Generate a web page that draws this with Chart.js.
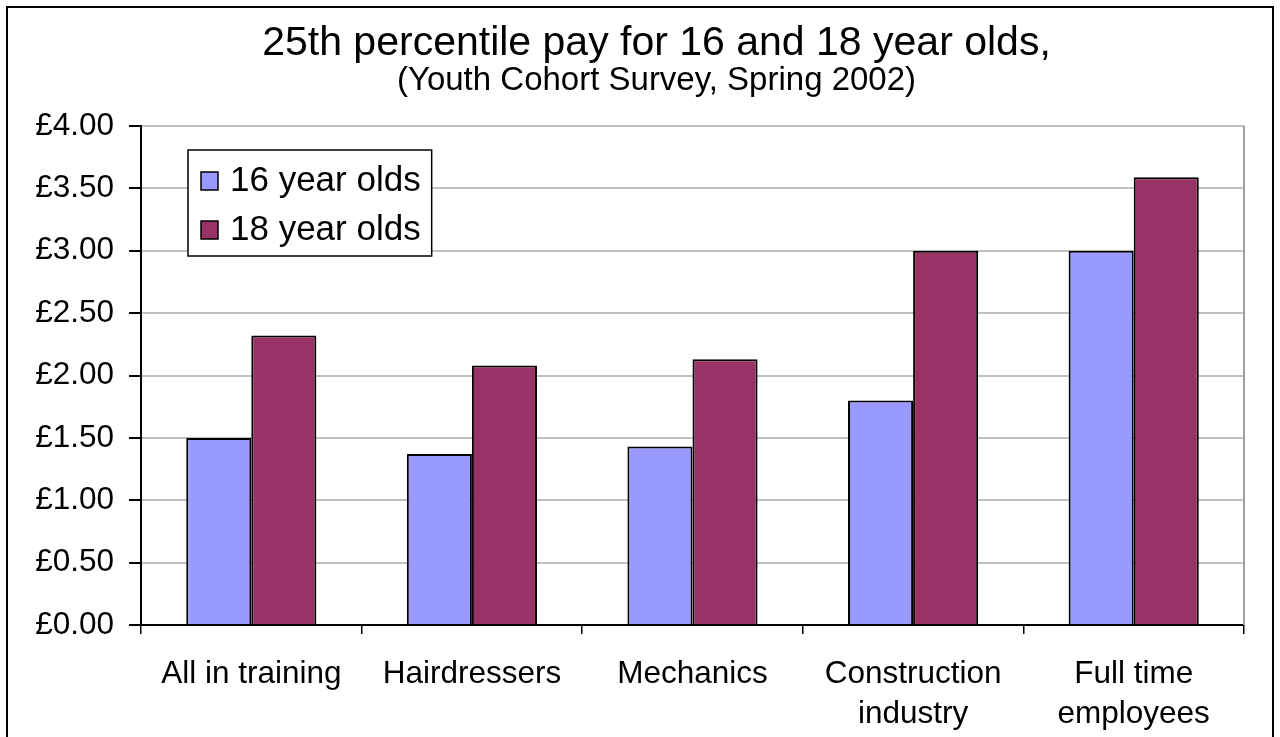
<!DOCTYPE html>
<html>
<head>
<meta charset="utf-8">
<script src="https://cdn.jsdelivr.net/npm/chart.js@4.4.1/dist/chart.umd.min.js"></script>
<style>
  html, body { margin: 0; padding: 0; background: #fff; }
  #wrap { position: absolute; left: 0; top: 0; width: 1280px; height: 737px; }
</style>
</head>
<body>
<div id="wrap"><canvas id="myChart" width="1280" height="737"></canvas></div>
<script>
var categories = ['All in training', 'Hairdressers', 'Mechanics', ['Construction', 'industry'], ['Full time', 'employees']];
var seriesNames = ['16 year olds', '18 year olds'];
var pay16 = [1.50, 1.37, 1.43, 1.80, 3.00];
var pay18 = [2.32, 2.08, 2.13, 3.00, 3.59];
var yTicks = [0, 0.5, 1, 1.5, 2, 2.5, 3, 3.5, 4];

var fontFamily = '"Liberation Sans", Arial, sans-serif';

// outer frame + grey right edge of plot area + boxed legend
var chartDecor = {
  id: 'chartDecor',
  beforeDraw: function(chart) {
    var ctx = chart.ctx;
    ctx.save();
    ctx.fillStyle = '#fff';
    ctx.fillRect(0, 0, chart.width, chart.height);
    ctx.restore();
  },
  afterDatasetsDraw: function(chart) {
    var ctx = chart.ctx;
    var area = chart.chartArea;
    ctx.save();
    ctx.strokeStyle = '#a0a0a0';
    ctx.lineWidth = 2;
    ctx.beginPath();
    ctx.moveTo(area.right, area.top);
    ctx.lineTo(area.right, area.bottom);
    ctx.stroke();
    ctx.restore();
  },
  afterDraw: function(chart) {
    var ctx = chart.ctx;
    var area = chart.chartArea;
    ctx.save();
    ctx.strokeStyle = '#000';
    ctx.lineWidth = 2;
    ctx.strokeRect(7, 7, 1266, 800);

    // legend box
    ctx.font = '35px ' + fontFamily;
    var maxW = 0;
    chart.data.datasets.forEach(function(ds) {
      maxW = Math.max(maxW, ctx.measureText(ds.label).width);
    });
    var bx = area.left + 47, by = area.top + 24;
    var bw = 12 + 18 + 11 + maxW + 12, bh = 106;
    ctx.fillStyle = '#fff';
    ctx.fillRect(bx, by, bw, bh);
    ctx.lineWidth = 1.5;
    ctx.strokeStyle = '#000';
    ctx.strokeRect(bx, by, bw, bh);
    chart.data.datasets.forEach(function(ds, i) {
      var cy = by + 31 + i * 49;
      ctx.fillStyle = ds.backgroundColor;
      ctx.fillRect(bx + 13, cy - 9, 17, 18);
      ctx.strokeStyle = '#000';
      ctx.lineWidth = 1.5;
      ctx.strokeRect(bx + 13, cy - 9, 17, 18);
      ctx.fillStyle = '#000';
      ctx.textBaseline = 'middle';
      ctx.textAlign = 'left';
      ctx.fillText(ds.label, bx + 42, cy);
    });
    ctx.restore();
  }
};

var ctx = document.getElementById('myChart').getContext('2d');
var myChart = new Chart(ctx, {
  type: 'bar',
  data: {
    labels: categories,
    datasets: [
      { label: seriesNames[0], data: pay16, backgroundColor: '#9999FF', borderColor: '#000', borderWidth: 2, borderSkipped: 'bottom' },
      { label: seriesNames[1], data: pay18, backgroundColor: '#993366', borderColor: '#000', borderWidth: 2, borderSkipped: 'bottom' }
    ]
  },
  options: {
    responsive: false,
    animation: false,
    layout: { padding: { left: 33, right: 0, top: 0, bottom: 0 } },
    datasets: {
      bar: { categoryPercentage: 0.59, barPercentage: 1.0 }
    },
    plugins: {
      legend: { display: false },
      tooltip: { enabled: false },
      title: {
        display: true,
        text: '25th percentile pay for 16 and 18 year olds,',
        color: '#000',
        font: { family: fontFamily, size: 41, weight: 'normal', lineHeight: 1.0 },
        padding: { top: 23, bottom: 0 }
      },
      subtitle: {
        display: true,
        text: '(Youth Cohort Survey, Spring 2002)',
        color: '#000',
        font: { family: fontFamily, size: 33, weight: 'normal', lineHeight: 1.0 },
        padding: { top: 0, bottom: 29 }
      }
    },
    scales: {
      x: {
        grid: { display: true, offset: true, drawOnChartArea: false, color: '#000', tickColor: '#000', tickLength: 9, lineWidth: 1.5 },
        border: { display: true, color: '#000', width: 2 },
        ticks: {
          color: '#000',
          font: { family: fontFamily, size: 31.5, lineHeight: 1.27 },
          padding: 20,
          maxRotation: 0,
          autoSkip: false
        },
        afterFit: function(scale) { scale.height = 112; }
      },
      y: {
        min: 0,
        max: 4,
        afterBuildTicks: function(scale) {
          scale.ticks = yTicks.map(function(v) { return { value: v }; });
        },
        grid: { color: '#c0c0c0', lineWidth: 2, tickColor: '#000', tickLength: 12 },
        border: { display: true, color: '#000', width: 2 },
        ticks: {
          color: '#000',
          font: { family: fontFamily, size: 31.5 },
          padding: 15,
          callback: function(v) { return '£' + Number(v).toFixed(2); }
        },
        afterFit: function(scale) { scale.width = 108; }
      },
      // empty spacer on the right so the plot ends where the original does
      spacer: {
        type: 'linear',
        position: 'right',
        display: true,
        grid: { display: false },
        border: { display: false },
        ticks: { display: false },
        afterFit: function(scale) { scale.width = 36; }
      }
    }
  },
  plugins: [chartDecor]
});
</script>
</body>
</html>
